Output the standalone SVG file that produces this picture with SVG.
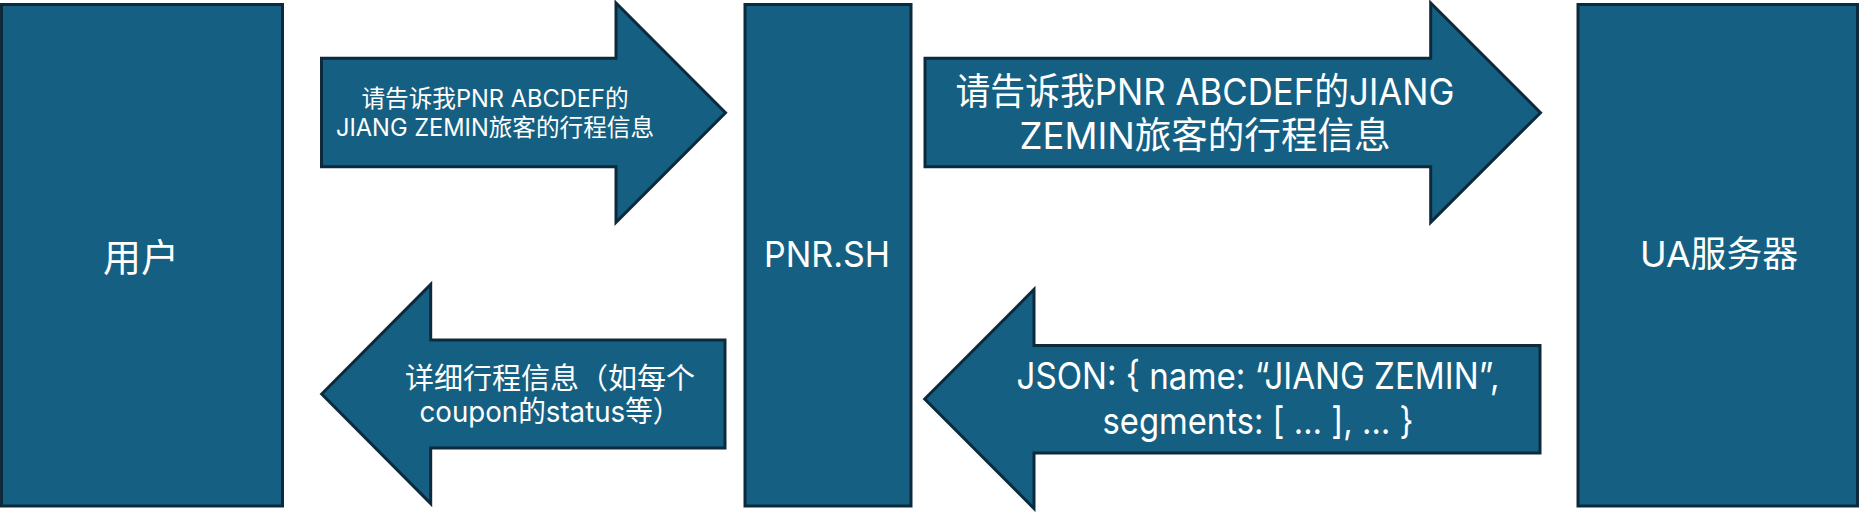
<svg xmlns="http://www.w3.org/2000/svg" width="1861" height="512" viewBox="0 0 1861 512">
<style>
.shape{fill:#156082;stroke:#0c2a3c;stroke-width:3;stroke-linejoin:miter}
.t{fill:#ffffff;font-family:Inter,"Noto Sans CJK SC",sans-serif;text-anchor:middle}
</style>
<rect x="0" y="0" width="1861" height="512" fill="#ffffff"/>
<g id="user">
<rect class="shape" x="1.5" y="4.5" width="281" height="501.5"/>
<text class="t" x="141" y="271" font-size="38">用户</text>
</g>
<g id="pnrsh">
<rect class="shape" x="745" y="4.5" width="166" height="501.5"/>
<text class="t" x="827" y="267" font-size="36" textLength="126" lengthAdjust="spacingAndGlyphs">PNR.SH</text>
</g>
<g id="ua">
<rect class="shape" x="1578" y="4.5" width="279.5" height="501.5"/>
<text class="t" x="1719" y="267" font-size="36" textLength="158" lengthAdjust="spacingAndGlyphs">UA服务器</text>
</g>
<g id="connectors">
<g id="arrow1">
<polygon class="shape" points="321.5,58.3 616,58.3 616,3 725.5,112.7 616,222.4 616,166.7 321.5,166.7"/>
<text class="t" font-size="24"><tspan x="495" y="107" textLength="267" lengthAdjust="spacingAndGlyphs">请告诉我PNR ABCDEF的</tspan><tspan x="495" y="136" textLength="318" lengthAdjust="spacingAndGlyphs">JIANG ZEMIN旅客的行程信息</tspan></text>
</g>
<g id="arrow2">
<polygon class="shape" points="925,58.3 1430.7,58.3 1430.7,3 1540.5,112.7 1430.7,222.4 1430.7,166.7 925,166.7"/>
<text class="t" font-size="37"><tspan x="1205" y="105" textLength="499" lengthAdjust="spacingAndGlyphs">请告诉我PNR ABCDEF的JIANG</tspan><tspan x="1205" y="149" textLength="371" lengthAdjust="spacingAndGlyphs">ZEMIN旅客的行程信息</tspan></text>
</g>
<g id="arrow3">
<polygon class="shape" points="321.7,394 430.7,284.5 430.7,340 725,340 725,448 430.7,448 430.7,503.5"/>
<text class="t" font-size="29"><tspan x="550" y="388.5">详细行程信息（如每个</tspan><tspan x="550" y="422" textLength="261" lengthAdjust="spacingAndGlyphs">coupon的status等）</tspan></text>
</g>
<g id="arrow4">
<polygon class="shape" points="924.7,399 1034,289.5 1034,345.5 1540,345.5 1540,453 1034,453 1034,508.5"/>
<text class="t" font-size="37"><tspan x="1258" y="389" textLength="483" lengthAdjust="spacingAndGlyphs">JSON: { name: “JIANG ZEMIN”,</tspan><tspan x="1258" y="434" textLength="311" lengthAdjust="spacingAndGlyphs">segments: [ … ], … }</tspan></text>
</g>
</g>
</svg>
